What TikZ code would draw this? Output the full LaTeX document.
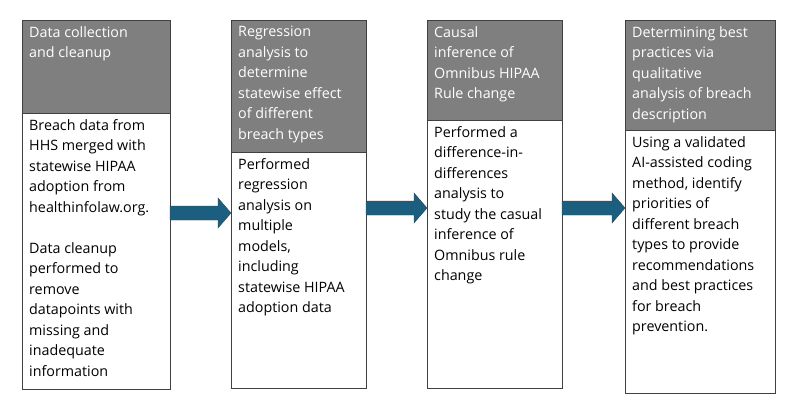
\documentclass[tikz,border=0pt]{standalone}
\usepackage{fontspec}
\setmainfont{Open Sans}
\usetikzlibrary{positioning,calc}
\definecolor{headgray}{HTML}{7F7F7F}
\definecolor{flowblue}{HTML}{1B5E80}
\definecolor{edgegray}{HTML}{404040}
\newcommand{\flowarrow}[3]{% from x, to x, y
  \fill[flowblue,draw=edgegray] (#1,#3-7) -- (#2-13,#3-7) -- (#2-13,#3-15) -- (#2,#3)
    -- (#2-13,#3+15) -- (#2-13,#3+7) -- (#1,#3+7) -- cycle;}
\begin{document}
\begin{tikzpicture}[x=1pt,y=-1pt,
    every node/.style={font=\fontsize{14.3}{20.5}\selectfont},
    head/.style={draw=edgegray,fill=headgray,anchor=north west,inner sep=0pt},
    body/.style={draw=edgegray,fill=white,anchor=north west,inner sep=0pt},
    txt/.style={anchor=north west,align=left,inner sep=0pt}]
  \useasboundingbox (0,0) rectangle (800,413);
  % Column 1
  \node[head,minimum width=148pt,minimum height=93pt] (h1) at (22,20) {};
  \node[body,minimum width=148pt,minimum height=276pt] (b1) at (22,113) {};
  \node[txt,text=white] at ($(h1.north west)+(7,6)$) {Data collection\\and cleanup};
  \node[txt] at ($(b1.north west)+(7,6)$) {Breach data from\\HHS merged with\\statewise HIPAA\\adoption from\\healthinfolaw.org.\\[20.5pt]Data cleanup\\performed to\\remove\\datapoints with\\missing and\\inadequate\\information};
  % Column 2
  \node[head,minimum width=135pt,minimum height=132pt] (h2) at (231,20) {};
  \node[body,minimum width=135pt,minimum height=236pt] (b2) at (231,152) {};
  \node[txt,text=white] at ($(h2.north west)+(7,6)$) {Regression\\analysis to\\determine\\statewise effect\\of different\\breach types};
  \node[txt] at ($(b2.north west)+(7,6)$) {Performed\\regression\\analysis on\\multiple\\models,\\including\\statewise HIPAA\\adoption data};
  % Column 3
  \node[head,minimum width=135pt,minimum height=100pt] (h3) at (427,20) {};
  \node[body,minimum width=135pt,minimum height=268pt] (b3) at (427,120) {};
  \node[txt,text=white] at ($(h3.north west)+(7,6)$) {Causal\\inference of\\Omnibus HIPAA\\Rule change};
  \node[txt] at ($(b3.north west)+(7,6)$) {Performed a\\difference-in-\\differences\\analysis to\\study the casual\\inference of\\Omnibus rule\\change};
  % Column 4
  \node[head,minimum width=150pt,minimum height=110pt] (h4) at (625,20) {};
  \node[body,minimum width=150pt,minimum height=263pt] (b4) at (625,130) {};
  \node[txt,text=white] at ($(h4.north west)+(7,6)$) {Determining best\\practices via\\qualitative\\analysis of breach\\description};
  \node[txt] at ($(b4.north west)+(7,6)$) {Using a validated\\AI-assisted coding\\method, identify\\priorities of\\different breach\\types to provide\\recommendations\\and best practices\\for breach\\prevention.};
  % Arrows
  \flowarrow{170}{231}{213}
  \flowarrow{366}{427}{208}
  \flowarrow{562}{625}{208}
\end{tikzpicture}
\end{document}
